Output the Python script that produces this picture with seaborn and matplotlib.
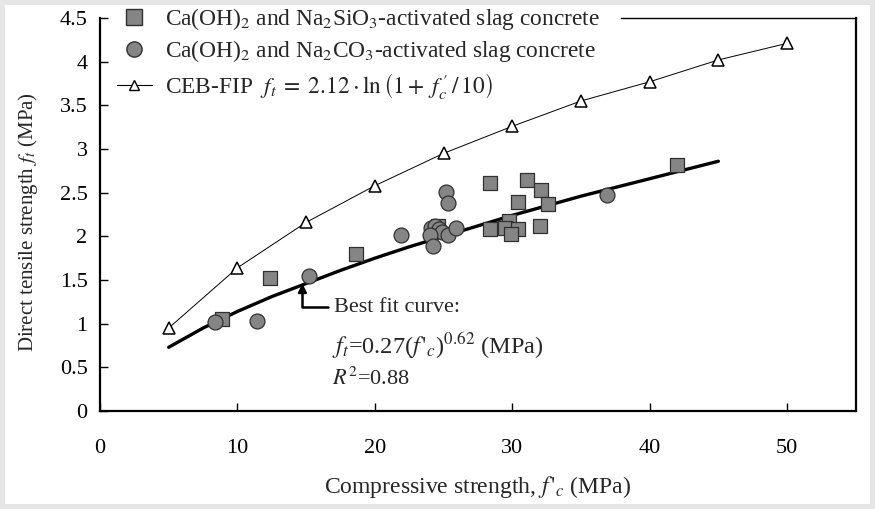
import pandas as pd
import matplotlib.pyplot as plt
import seaborn as sns
from matplotlib.lines import Line2D

# Ca(OH)2 + Na2SiO3 activated slag concrete (squares)
sil_fc = [8.9, 12.4, 18.6, 28.4, 31.1, 32.1, 30.4, 32.6, 28.4, 29.8, 29.5, 30.4, 29.9, 32.0, 42.0, 24.6]
sil_ft = [1.05, 1.52, 1.80, 2.61, 2.64, 2.53, 2.39, 2.37, 2.08, 2.18, 2.10, 2.08, 2.03, 2.12, 2.82, 2.12]

# Ca(OH)2 + Na2CO3 activated slag concrete (circles)
carb_fc = [8.4, 11.4, 15.2, 21.9, 25.2, 25.3, 24.1, 24.4, 24.7, 24.9, 25.3, 25.9, 24.0, 24.2, 36.9]
carb_ft = [1.02, 1.03, 1.55, 2.02, 2.51, 2.38, 2.09, 2.12, 2.08, 2.05, 2.02, 2.10, 2.01, 1.89, 2.47]

# CEB-FIP curve (triangles)
ceb_fc = [5, 10, 15, 20, 25, 30, 35, 40, 45, 50]
ceb_ft = [0.95, 1.64, 2.16, 2.58, 2.95, 3.26, 3.55, 3.77, 4.02, 4.21]

# best fit curve
fit_fc = [5, 7.5, 10, 12.5, 15, 17.5, 20, 22.5, 25, 27.5, 30, 32.5, 35, 37.5, 40, 42.5, 45]
fit_ft = [0.73, 0.95, 1.14, 1.31, 1.46, 1.61, 1.75, 1.88, 2.00, 2.12, 2.24, 2.35, 2.46, 2.56, 2.66, 2.76, 2.86]

sil = pd.DataFrame({'fc': sil_fc, 'ft': sil_ft})
carb = pd.DataFrame({'fc': carb_fc, 'ft': carb_ft})
ceb = pd.DataFrame({'fc': ceb_fc, 'ft': ceb_ft})
fit = pd.DataFrame({'fc': fit_fc, 'ft': fit_ft})

sns.set_style('white')
plt.rcParams['font.family'] = ['Liberation Serif', 'DejaVu Serif']
plt.rcParams['mathtext.fontset'] = 'stix'

fig = plt.figure(figsize=(8.75, 5.09), dpi=100)
ax = fig.add_axes([0.1143, 0.1925, 0.8637, 0.7721])

gray = '#858585'
sns.lineplot(x='fc', y='ft', data=ceb, ax=ax, color='black', lw=0.7, marker='^',
             markersize=8, markerfacecolor='white', markeredgecolor='black', markeredgewidth=1.1)
sns.lineplot(x='fc', y='ft', data=fit, ax=ax, color='black', lw=2.4)
sns.scatterplot(x='fc', y='ft', data=sil, ax=ax, marker='s', s=115, color=gray,
                edgecolor='#303030', linewidth=0.9, zorder=3)
sns.scatterplot(x='fc', y='ft', data=carb, ax=ax, marker='o', s=115, color=gray,
                edgecolor='#303030', linewidth=0.9, zorder=4)

ax.set_xlim(0, 55)
ax.set_ylim(0, 4.5)
ax.set_xticks(range(0, 51, 10))
ax.set_yticks([0, 0.5, 1, 1.5, 2, 2.5, 3, 3.5, 4, 4.5])
ax.set_yticklabels(['0', '0.5', '1', '1.5', '2', '2.5', '3', '3.5', '4', '4.5'])
ax.tick_params(axis='both', direction='in', length=6, width=1, labelsize=16,
               colors='black', left=True, bottom=True)
ax.tick_params(axis='y', pad=9)
ax.tick_params(axis='x', pad=20)
for side in ['left', 'bottom', 'right']:
    ax.spines[side].set_linewidth(1.6)
    ax.spines[side].set_color('black')
ax.spines['top'].set_linewidth(1.0)
ax.spines['top'].set_color('black')
# top border only shows to the right of the legend block
ax.spines['top'].set_bounds(37.95, 55)

ax.set_xlabel(r"Compressive strength, $f\,'_{c}$ (MPa)", fontsize=17)
ax.set_ylabel(r"Direct tensile strength $f_t$ (MPa)", fontsize=15)
ax.xaxis.set_label_coords(0.5, -0.16)
ax.yaxis.set_label_coords(-0.08, 0.48)

# best fit annotation
ax.annotate('', xy=(14.73, 1.46), xytext=(16.6, 1.19),
            arrowprops=dict(arrowstyle='-|>', color='black', lw=1.8,
                            connectionstyle='angle,angleA=0,angleB=90,rad=0',
                            mutation_scale=12, shrinkA=0, shrinkB=0))
ax.text(17.0, 1.19, 'Best fit curve:', fontsize=16, va='center', ha='left')
ax.text(16.9, 0.75, r"$f_t$=0.27($f\,'_c$)$^{0.62}$ (MPa)", fontsize=17.5, va='center', ha='left')
ax.text(16.9, 0.37, r"$R^2$=0.88", fontsize=16, va='center', ha='left')

handles = [
    Line2D([], [], ls='none', marker='s', markersize=11, markerfacecolor=gray, markeredgecolor='#303030'),
    Line2D([], [], ls='none', marker='o', markersize=11, markerfacecolor=gray, markeredgecolor='#303030'),
    Line2D([], [], color='black', lw=0.8, marker='^', markersize=7,
           markerfacecolor='white', markeredgecolor='black'),
]
labels = [
    r'Ca(OH)$_2$ and Na$_2$SiO$_3$-activated slag concrete',
    r'Ca(OH)$_2$ and Na$_2$CO$_3$-activated slag concrete',
    r'CEB-FIP  $f_t\;=\;2.12\cdot\ln\left(1+\;f_c^{\,\prime}\,/\,10\right)$',
]
leg = ax.legend(handles, labels, loc='upper left', bbox_to_anchor=(0.127, 1.0),
                bbox_transform=fig.transFigure, fontsize=16.8, frameon=False,
                borderpad=0.25, borderaxespad=0, handlelength=1.5, handletextpad=0.55,
                labelspacing=0.28)

fig.patch.set_edgecolor('#e6e6e6')
fig.patch.set_linewidth(6)

plt.savefig('out.png', dpi=100, edgecolor=fig.get_edgecolor())
